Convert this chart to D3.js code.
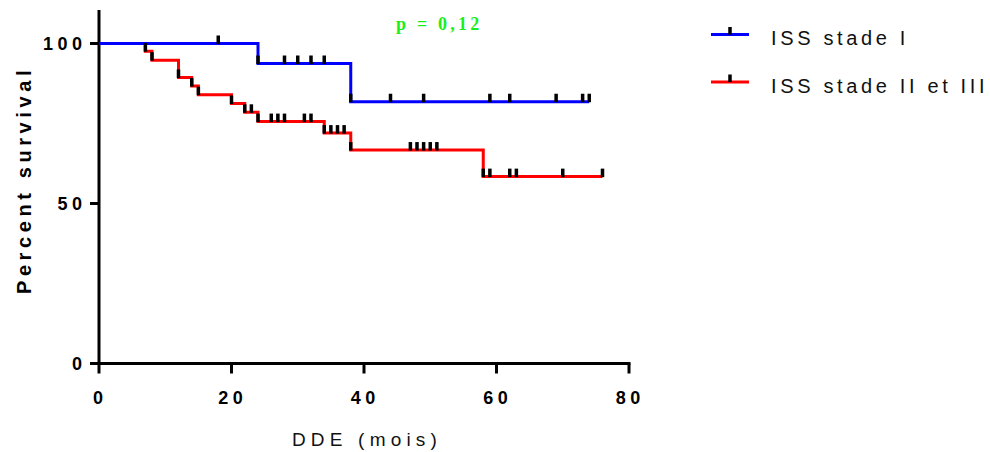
<!DOCTYPE html>
<html>
<head>
<meta charset="utf-8">
<script src="https://cdn.jsdelivr.net/npm/d3@7"></script>
<style>
  html, body { margin: 0; padding: 0; background: #fff; }
  svg { display: block; }
</style>
</head>
<body>
<svg id="chart" width="990" height="452"></svg>
<script>
// ---- Data ----
const seriesNames = ["ISS stade I", "ISS stade II et III"];
const blueTimes = [0, 24, 38, 74];
const blueSurv = [100, 93.75, 81.8, 81.8];
const blueCensor = [18, 24, 28, 30, 32, 34, 38, 44, 49, 59, 62, 69, 73, 74];
const redTimes = [0, 7, 8, 12, 14, 15, 20, 22, 24, 34, 38, 58, 76];
const redSurv = [100, 97.6, 94.8, 89.4, 86.7, 84.0, 81.25, 78.5, 75.6, 72.0, 66.7, 58.4, 58.4];
const redCensor = [7, 8, 12, 14, 15, 20, 22, 23, 24, 26, 27, 28, 31, 32, 34, 35, 36, 37, 38, 47, 48, 49, 50, 51, 58, 59, 62, 63, 70, 76];
const xTicks = [0, 20, 40, 60, 80];
const yTicks = [0, 50, 100];
const pLabel = "p = 0,12";
const xTitle = "DDE (mois)";
const yTitle = "Percent survival";

// ---- Layout ----
const SANS = "'Liberation Sans', Arial, sans-serif";
const SERIF = "'Liberation Serif', 'Times New Roman', serif";
const svg = d3.select("#chart");
const x = d3.scaleLinear().domain([0, 80]).range([99, 629]);
const y = d3.scaleLinear().domain([0, 100]).range([363.5, 43.5]);
const colors = ["#0000ff", "#ff0000"];

function survAt(times, surv, t) {
  let v = surv[0];
  for (let i = 0; i < times.length; i++) if (times[i] <= t) v = surv[i];
  return v;
}

// Axes
const yAxisG = svg.append("g").attr("transform", "translate(99,0)");
yAxisG.append("line").attr("x1", 0).attr("x2", 0).attr("y1", 10).attr("y2", 365)
  .attr("stroke", "#000").attr("stroke-width", 3);
yAxisG.selectAll("line.tk").data(yTicks).join("line").attr("class", "tk")
  .attr("x1", -9).attr("x2", 0).attr("y1", d => y(d)).attr("y2", d => y(d))
  .attr("stroke", "#000").attr("stroke-width", 3);
const tickLs = 4.5;
yAxisG.selectAll("text").data(yTicks).join("text")
  .attr("x", -17 + tickLs).attr("y", d => y(d)).attr("dy", "0.36em")
  .attr("text-anchor", "end").style("font-family", SANS).attr("font-weight", "bold").attr("font-size", 18)
  .attr("letter-spacing", tickLs).attr("fill", "#000").text(d => d);

const xAxisG = svg.append("g").attr("transform", "translate(0,363.5)");
xAxisG.append("line").attr("x1", 97.5).attr("x2", 630.5).attr("y1", 0).attr("y2", 0)
  .attr("stroke", "#000").attr("stroke-width", 3);
xAxisG.selectAll("line.tk").data(xTicks).join("line").attr("class", "tk")
  .attr("x1", d => x(d)).attr("x2", d => x(d)).attr("y1", 0).attr("y2", 10)
  .attr("stroke", "#000").attr("stroke-width", 3);
xAxisG.selectAll("text").data(xTicks).join("text")
  .attr("x", d => x(d) + tickLs / 2 - 1).attr("y", 40)
  .attr("text-anchor", "middle").style("font-family", SANS).attr("font-weight", "bold").attr("font-size", 18)
  .attr("letter-spacing", tickLs).attr("fill", "#000").text(d => d);

// Titles
svg.append("text").attr("transform", "translate(31,180) rotate(-90)")
  .attr("text-anchor", "middle").style("font-family", SANS).attr("font-weight", "bold").attr("font-size", 20)
  .attr("letter-spacing", 4.6).attr("fill", "#000").text(yTitle);
svg.append("text").attr("x", 367).attr("y", 446)
  .attr("text-anchor", "middle").style("font-family", SANS).attr("font-size", 19)
  .attr("letter-spacing", 5.2).attr("fill", "#111").text(xTitle);

// Curves
const line = d3.line().x(d => x(d[0])).y(d => y(d[1])).curve(d3.curveStepAfter);
const series = [
  { times: blueTimes, surv: blueSurv, censor: blueCensor },
  { times: redTimes, surv: redSurv, censor: redCensor }
];
series.slice().reverse().forEach((s, ri) => {
  const i = series.length - 1 - ri;
  const pts = s.times.map((t, k) => [t, s.surv[k]]);
  svg.append("path").attr("d", line(pts)).attr("fill", "none")
    .attr("stroke", colors[i]).attr("stroke-width", 3);
});
series.forEach((s) => {
  svg.append("g").selectAll("rect").data(s.censor).join("rect")
    .attr("x", d => x(d) - 1.75).attr("width", 3.5)
    .attr("y", d => y(survAt(s.times, s.surv, d)) - 8)
    .attr("height", 8.5)
    .attr("fill", "#000");
});

// p value
svg.append("text").attr("x", 396).attr("y", 30)
  .style("font-family", SERIF)
  .attr("font-weight", "bold").attr("font-size", 18).attr("letter-spacing", 3.2)
  .attr("fill", "#1aee1a").text(pLabel);

// Legend
const legY = [34.5, 82];
seriesNames.forEach((name, i) => {
  const g = svg.append("g");
  g.append("line").attr("x1", 711).attr("x2", 749).attr("y1", legY[i]).attr("y2", legY[i])
    .attr("stroke", colors[i]).attr("stroke-width", 3);
  g.append("rect").attr("x", 728.25).attr("width", 3.5).attr("y", legY[i] - 7.5).attr("height", 7.5)
    .attr("fill", "#000");
  g.append("text").attr("x", 771).attr("y", legY[i] + 10.5)
    .style("font-family", SANS).attr("font-size", 20).attr("letter-spacing", 3.65).attr("fill", "#111").text(name);
});
</script>
</body>
</html>
